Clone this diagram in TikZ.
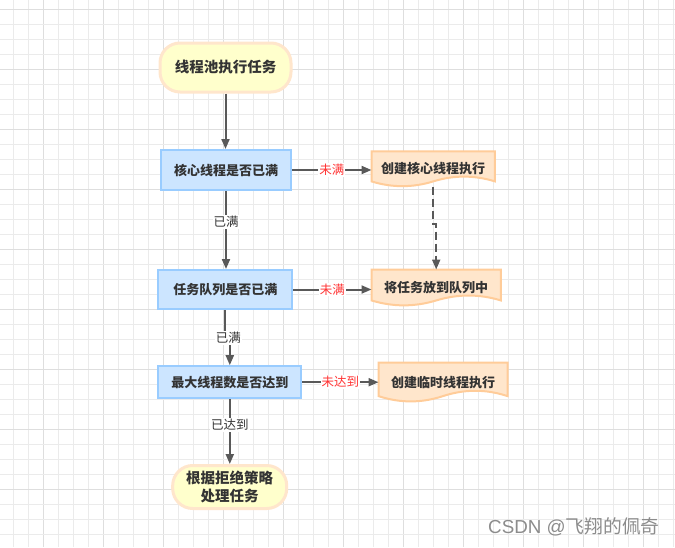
\documentclass[tikz,border=0pt]{standalone}
\usepackage{fontspec}
\setmainfont{Noto Sans CJK SC}
\newfontfamily\latinwm{Liberation Sans}
\usetikzlibrary{arrows.meta,calc}
\definecolor{gridminor}{HTML}{EBEBEB}
\definecolor{gridmajor}{HTML}{DEDEDE}
\definecolor{startfill}{HTML}{FFFFCC}
\definecolor{startborder}{HTML}{FFE6CC}
\definecolor{boxfill}{HTML}{CCE5FF}
\definecolor{boxborder}{HTML}{99CCFF}
\definecolor{docfill}{HTML}{FFE6CC}
\definecolor{docborder}{HTML}{FFCC99}
\definecolor{conncol}{HTML}{595959}
\definecolor{txt}{HTML}{333333}
\definecolor{lblred}{HTML}{FF3333}
\definecolor{wmark}{HTML}{8C8C8C}
\pgfdeclarelayer{gridlayer}
\pgfdeclarelayer{shapelayer}
\pgfsetlayers{gridlayer,shapelayer,main}
\tikzset{
  startend/.style={draw=startborder, fill=startfill, line width=3pt, rounded corners=20pt,
    inner sep=0pt, align=center, text=txt, font=\fontsize{14.5}{18}\selectfont\bfseries},
  decision/.style={draw=boxborder, fill=boxfill, line width=2pt, inner sep=0pt,
    text=txt, font=\fontsize{13}{16}\selectfont\bfseries},
  docnode/.style={inner sep=0pt, text=txt, font=\fontsize{13}{16}\selectfont\bfseries},
  docdraw/.style={draw=docborder, fill=docfill, line width=2pt},
  conn/.style={draw=conncol, line width=2pt, -{Triangle[length=10pt,width=8pt]}},
  dashconn/.style={conn, dash pattern=on 8pt off 4pt},
  lblno/.style={fill=white, inner sep=1pt, text=lblred, font=\fontsize{12.5}{15}\selectfont},
  lblyes/.style={fill=white, inner sep=1pt, text=txt, font=\fontsize{12.5}{15}\selectfont},
}
\newcommand\docshape[1]{%
  \draw[docdraw] let \p1=(#1.north west), \p2=(#1.south east), \n1={\x2-\x1}, \n2={(\y1-\y2)*0.3} in
   (\x1,\y1) -- (\x2,\y1) -- (\x2,\y2+0.5*\n2)
   .. controls (\x2-\n1/6,\y2+1.1*\n2) and (\x1+2*\n1/3,\y2+1.1*\n2) .. (\x1+0.5*\n1,\y2+0.5*\n2)
   .. controls (\x1+\n1/3,\y2-0.1*\n2) and (\x1+\n1/6,\y2-0.1*\n2) .. (\x1,\y2+0.5*\n2) -- cycle;}
\begin{document}
\begin{tikzpicture}[x=1pt,y=-1pt]
\useasboundingbox (0,0) rectangle (675,547);
\begin{pgfonlayer}{gridlayer}
  \fill[white] (0,0) rectangle (675,547);
  \foreach \i in {0,...,44}{
    \pgfmathtruncatemacro\m{mod(\i,4)}
    \ifnum\m=2 \def\gc{gridmajor}\else\def\gc{gridminor}\fi
    \draw[\gc, line width=1pt] (13.3+15*\i,0) -- (13.3+15*\i,547);
  }
  \foreach \i in {0,...,35}{
    \pgfmathtruncatemacro\m{mod(\i,4)}
    \ifnum\m=0 \def\gc{gridmajor}\else\def\gc{gridminor}\fi
    \draw[\gc, line width=1pt] (0,9.3+15*\i) -- (675,9.3+15*\i);
  }
\end{pgfonlayer}

% nodes
\node[startend, minimum width=131pt, minimum height=49pt] (start) at (225.5,67.5) {线程池执行任务};
\node[decision, minimum width=130pt, minimum height=40pt] (b1) at (226,170) {核心线程是否已满};
\node[decision, minimum width=134pt, minimum height=39pt] (b2) at (225.3,289.5) {任务队列是否已满};
\node[decision, minimum width=143pt, minimum height=32pt] (b3) at (229.8,382.2) {最大线程数是否达到};
\node[startend, minimum width=114pt, minimum height=43pt] (fin) at (229.7,487) {根据拒绝策略\\处理任务};

\node[docnode, minimum width=123pt, minimum height=35pt] (d1) at (433.2,169) {创建核心线程执行};
\node[docnode, minimum width=129pt, minimum height=36pt] (d2) at (436.2,287.7) {将任务放到队列中};
\node[docnode, minimum width=128.6pt, minimum height=39pt] (d3) at (443,382.3) {创建临时线程执行};
\begin{pgfonlayer}{shapelayer}
  \docshape{d1}
  \docshape{d2}
  \docshape{d3}
\end{pgfonlayer}

% connectors
\draw[conn] (start.south) -- (start.south |- b1.north);
\draw[conn] (b1.east) -- (b1.east -| d1.west) node[lblno, midway] (l1) {未满};
\draw[conn] (b1.south) -- (b1.south |- b2.north) node[lblyes, pos=0.4] (l2) {已满};
\draw[conn] (b2.east) -- (b2.east -| d2.west) node[lblno, midway] (l3) {未满};
\draw[conn] (b2.south) -- ++(0,27) coordinate (j1) -| (b3.north);
\node[lblyes] (l4) at ($(j1)+(3,1)$) {已满};
\draw[conn] (b3.east) -- (b3.east -| d3.west) node[lblno, midway] (l5) {未达到};
\draw[conn] (b3.south) -- (b3.south |- fin.north) node[lblyes, pos=0.4] (l6) {已达到};
\draw[dashconn] (d1.south) -- ++(0,37) -| (d2.north);

% watermark
\node[anchor=west, inner sep=0pt, text=wmark, font=\fontsize{18.8}{21}\selectfont] (wm) at (488,527) {{\latinwm CSDN @}飞翔的佩奇};
\end{tikzpicture}
\end{document}
